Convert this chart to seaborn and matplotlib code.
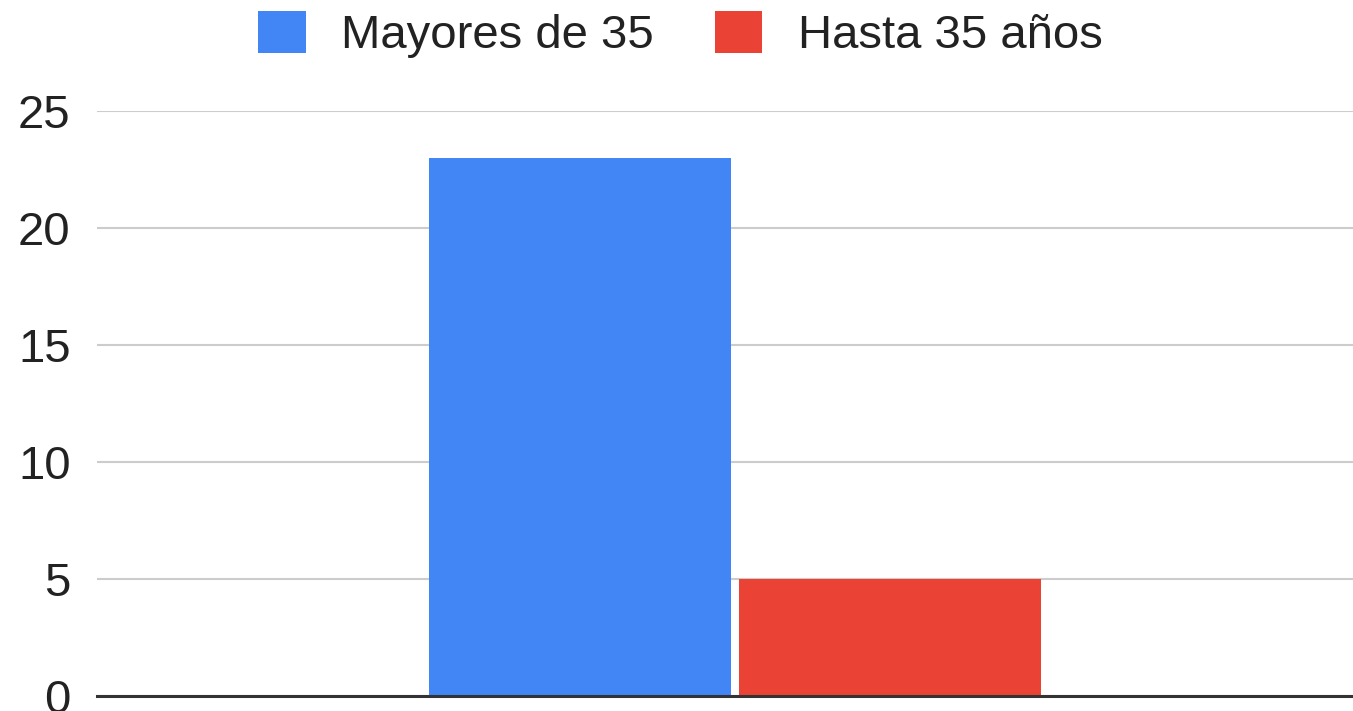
import pandas as pd
import matplotlib
matplotlib.use("Agg")
import matplotlib.pyplot as plt
import seaborn as sns
from matplotlib.patches import Patch

# datos del gráfico
grupos = [""]
series = ["Mayores de 35", "Hasta 35 años"]
valores = [23, 5]
colores = ["#4285F4", "#EA4335"]
y_ticks = [0, 5, 10, 15, 20, 25]

df = pd.DataFrame({
    "grupo": grupos * len(series),
    "serie": series,
    "valor": valores,
})

sns.set_style("white")
plt.rcParams['font.family'] = ['Liberation Sans', 'DejaVu Sans']

fig = plt.figure(figsize=(13.53, 7.11), dpi=100)
ax = fig.add_axes([0.0717, 0.0211, 0.9283, 0.8228])

sns.barplot(data=df, x="grupo", y="valor", hue="serie", hue_order=series,
            palette=colores, width=0.493, gap=0.025, saturation=1,
            edgecolor="none", ax=ax)

ax.set_xlim(-0.508, 0.492)
ax.set_ylim(0, 25)
ax.set_yticks(y_ticks)
ax.set_yticklabels([str(t) for t in y_ticks])
ax.set_xticks([])
ax.set_xlabel("")
ax.set_ylabel("")

ax.yaxis.grid(True, color="#cccccc", linewidth=1.5)
ax.set_axisbelow(True)
ax.tick_params(axis="y", length=0, pad=19, labelsize=34, labelcolor="#222222")

for s in ["top", "left", "right"]:
    ax.spines[s].set_visible(False)
ax.spines["bottom"].set_color("#333333")
ax.spines["bottom"].set_linewidth(2.2)

if ax.legend_ is not None:
    ax.legend_.remove()

handles = [Patch(facecolor=c, edgecolor="none") for c in colores]
fig.legend(handles, series, loc="center", bbox_to_anchor=(0.503, 0.951),
           ncol=2, frameon=False, fontsize=34, handlelength=1.0,
           handleheight=1.0, handletextpad=0.75, columnspacing=1.3,
           borderpad=0, labelcolor="#222222")

fig.savefig("out.png", dpi=100)
